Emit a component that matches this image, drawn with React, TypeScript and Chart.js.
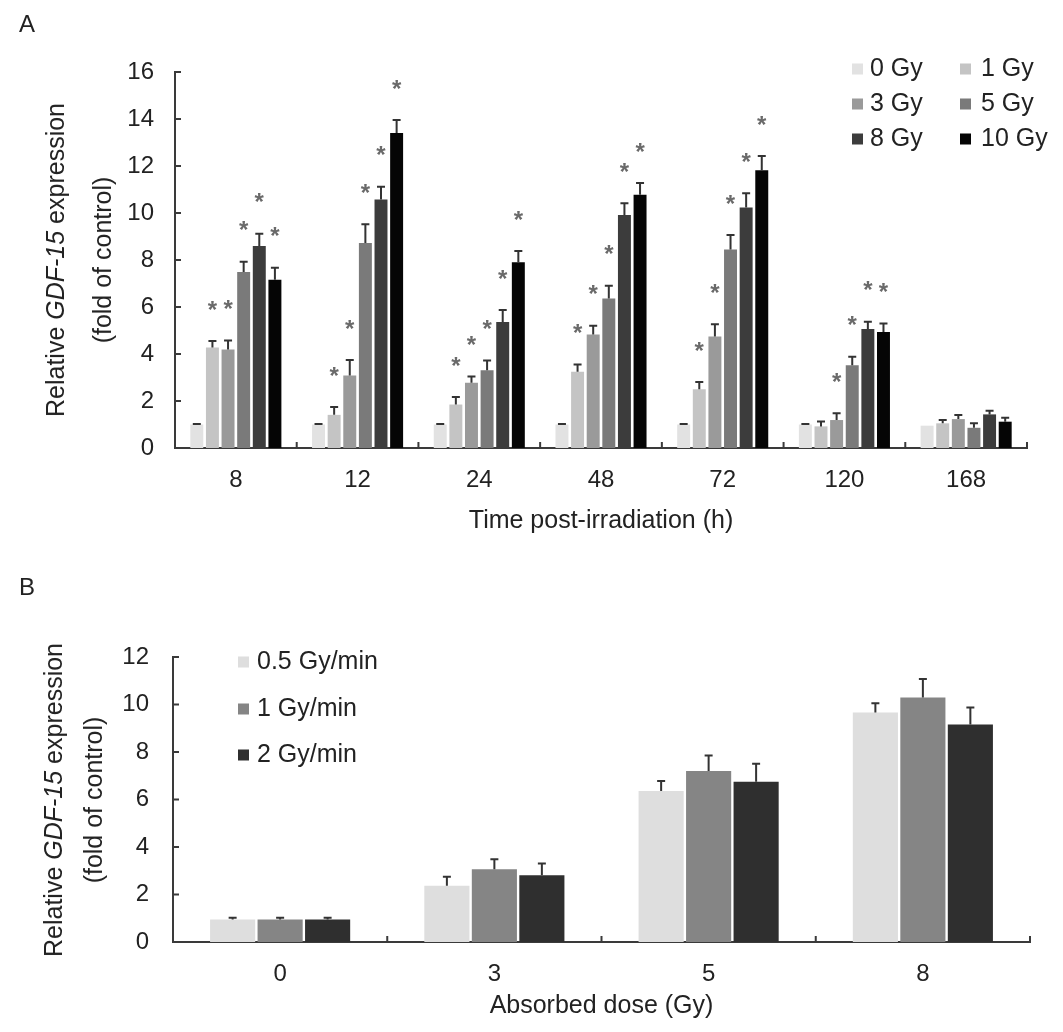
import { useEffect, useRef } from "react";
import { Chart, registerables } from "chart.js";

Chart.register(...registerables);

const FONT = "'Liberation Sans', Arial, Helvetica, sans-serif";
const TEXT = "#222";
const AXIS = "#3a3a3a";

// ---- panel A: time course ----
const timePoints = ["8", "12", "24", "48", "72", "120", "168"];
const doseLabels = ["0 Gy", "1 Gy", "3 Gy", "5 Gy", "8 Gy", "10 Gy"];
const doseColors = ["#e2e2e2", "#c4c4c4", "#9a9a9a", "#7a7a7a", "#3c3c3c", "#050505"];

const gy0 = [1.0, 1.0, 1.0, 1.0, 1.0, 1.0, 0.95];
const gy1 = [4.28, 1.41, 1.85, 3.24, 2.5, 0.92, 1.05];
const gy3 = [4.19, 3.08, 2.78, 4.83, 4.74, 1.19, 1.23];
const gy5 = [7.49, 8.72, 3.31, 6.36, 8.45, 3.52, 0.86];
const gy8 = [8.6, 10.57, 5.36, 9.91, 10.23, 5.06, 1.43];
const gy10 = [7.16, 13.4, 7.9, 10.78, 11.82, 4.94, 1.12];

const gy0Err = [0.02, 0.02, 0.02, 0.02, 0.02, 0.02, 0];
const gy1Err = [0.27, 0.34, 0.32, 0.31, 0.31, 0.21, 0.14];
const gy3Err = [0.38, 0.66, 0.26, 0.37, 0.53, 0.29, 0.17];
const gy5Err = [0.44, 0.8, 0.41, 0.54, 0.61, 0.36, 0.19];
const gy8Err = [0.52, 0.55, 0.51, 0.5, 0.61, 0.31, 0.16];
const gy10Err = [0.51, 0.56, 0.48, 0.5, 0.61, 0.36, 0.17];

const gy0Sig = [0, 0, 0, 0, 0, 0, 0];
const gy1Sig = [1, 1, 1, 1, 1, 0, 0];
const gy3Sig = [1, 1, 1, 1, 1, 1, 0];
const gy5Sig = [1, 1, 1, 1, 1, 1, 0];
const gy8Sig = [1, 1, 1, 1, 1, 1, 0];
const gy10Sig = [1, 1, 1, 1, 1, 1, 0];

const doseMeans = [gy0, gy1, gy3, gy5, gy8, gy10];
const doseErrors = [gy0Err, gy1Err, gy3Err, gy5Err, gy8Err, gy10Err];
const doseSig = [gy0Sig, gy1Sig, gy3Sig, gy5Sig, gy8Sig, gy10Sig];

// ---- panel B: dose rate ----
const doseLevels = ["0", "3", "5", "8"];
const rateLabels = ["0.5 Gy/min", "1 Gy/min", "2 Gy/min"];
const rateColors = ["#dedede", "#858585", "#2f2f2f"];

const rate05 = [0.95, 2.37, 6.36, 9.66];
const rate1 = [0.95, 3.06, 7.2, 10.29];
const rate2 = [0.95, 2.81, 6.75, 9.16];
const rate05Err = [0.07, 0.38, 0.42, 0.39];
const rate1Err = [0.07, 0.42, 0.65, 0.78];
const rate2Err = [0.07, 0.5, 0.76, 0.71];

const rateMeans = [rate05, rate1, rate2];
const rateErrors = [rate05Err, rate1Err, rate2Err];

const errorBars = {
  id: "errorBars",
  afterDatasetsDraw(chart: any) {
    const { ctx } = chart;
    const y = chart.scales.y;
    chart.data.datasets.forEach((ds: any, i: number) => {
      const meta = chart.getDatasetMeta(i);
      meta.data.forEach((bar: any, j: number) => {
        const err = ds.errors[j];
        const top = y.getPixelForValue(ds.data[j] + err);
        ctx.save();
        ctx.strokeStyle = "#333";
        ctx.lineWidth = 2;
        if (err > 0) {
          ctx.beginPath();
          ctx.moveTo(bar.x, bar.y);
          ctx.lineTo(bar.x, top);
          ctx.moveTo(bar.x - 4, top);
          ctx.lineTo(bar.x + 4, top);
          ctx.stroke();
        }
        if (ds.stars && ds.stars[j]) {
          ctx.fillStyle = "#6a6a6a";
          ctx.font = `bold 24px ${FONT}`;
          ctx.textAlign = "center";
          ctx.textBaseline = "middle";
          ctx.fillText("*", bar.x, top - 30);
        }
        ctx.restore();
      });
    });
  },
};

// short tick marks pointing into the plot
const innerTicks = {
  id: "innerTicks",
  afterDraw(chart: any) {
    const { ctx, chartArea } = chart;
    const { left, right, bottom } = chartArea;
    const y = chart.scales.y;
    const n = chart.data.labels.length;
    ctx.save();
    ctx.strokeStyle = AXIS;
    ctx.lineWidth = 2;
    ctx.beginPath();
    y.ticks.forEach((t: any) => {
      const py = y.getPixelForValue(t.value);
      ctx.moveTo(left, py);
      ctx.lineTo(left + 6, py);
    });
    for (let i = 1; i <= n; i++) {
      const px = left + ((right - left) * i) / n;
      ctx.moveTo(px, bottom);
      ctx.lineTo(px, bottom - 6);
    }
    ctx.stroke();
    ctx.restore();
  },
};

function makeConfig(o: any) {
  return {
    type: "bar",
    data: {
      labels: o.labels,
      datasets: o.names.map((label: string, i: number) => ({
        label,
        data: o.means[i],
        errors: o.errors[i],
        stars: o.sig ? o.sig[i] : null,
        backgroundColor: o.colors[i],
        borderWidth: 0,
        barPercentage: o.barPct,
        categoryPercentage: o.catPct,
      })),
    },
    options: {
      responsive: false,
      animation: false,
      layout: { padding: { top: o.top, right: o.right, left: 0, bottom: 0 } },
      plugins: { legend: { display: false }, tooltip: { enabled: false } },
      scales: {
        x: {
          grid: { display: false },
          border: { color: AXIS, width: 2 },
          ticks: { color: TEXT, font: { size: 24, family: FONT }, padding: 10 },
          title: {
            display: true,
            text: o.xTitle,
            color: TEXT,
            font: { size: 25, family: FONT },
            padding: { top: 0, bottom: o.titlePad },
          },
          afterFit: (s: any) => {
            s.height = o.xHeight;
          },
        },
        y: {
          min: 0,
          max: o.yMax,
          grid: { display: false },
          border: { color: AXIS, width: 2 },
          ticks: { stepSize: 2, color: TEXT, font: { size: 24, family: FONT }, padding: o.yPad },
          afterFit: (s: any) => {
            s.width = o.left;
          },
        },
      },
    },
    plugins: [errorBars, innerTicks],
  };
}

function BarPanel({ top, width, height, config }: any) {
  const ref = useRef<HTMLCanvasElement | null>(null);
  useEffect(() => {
    const canvas = ref.current;
    if (!canvas) return;
    const chart = new Chart(canvas, config);
    return () => chart.destroy();
  }, []);
  return (
    <canvas
      ref={ref}
      width={width}
      height={height}
      style={{ position: "absolute", left: 0, top, width, height }}
    />
  );
}

function YTitle({ cx, cy, gap }: any) {
  return (
    <div
      style={{
        position: "absolute",
        left: cx,
        top: cy,
        transform: "translate(-50%, -50%) rotate(-90deg)",
        whiteSpace: "nowrap",
        textAlign: "center",
        font: `25px ${FONT}`,
        lineHeight: `${gap}px`,
        color: TEXT,
      }}
    >
      <div>
        Relative <i>GDF-15</i> expression
      </div>
      <div>(fold of control)</div>
    </div>
  );
}

function LegendItem({ x, y, color, label, gap }: any) {
  return (
    <div
      style={{
        position: "absolute",
        left: x,
        top: y,
        transform: "translateY(-50%)",
        display: "flex",
        alignItems: "center",
        font: `25px ${FONT}`,
        lineHeight: 1,
        color: TEXT,
        whiteSpace: "nowrap",
      }}
    >
      <span style={{ width: 11, height: 11, background: color, marginRight: gap, marginTop: 4 }} />
      {label}
    </div>
  );
}

const configA = makeConfig({
  labels: timePoints,
  names: doseLabels,
  means: doseMeans,
  errors: doseErrors,
  sig: doseSig,
  colors: doseColors,
  barPct: 0.83,
  catPct: 0.77,
  top: 72,
  right: 36,
  left: 175,
  xHeight: 97,
  titlePad: 9,
  yMax: 16,
  yPad: 13,
  xTitle: "Time post-irradiation (h)",
});

const configB = makeConfig({
  labels: doseLevels,
  names: rateLabels,
  means: rateMeans,
  errors: rateErrors,
  sig: null,
  colors: rateColors,
  barPct: 0.95,
  catPct: 0.665,
  top: 97,
  right: 33,
  left: 173,
  xHeight: 90,
  titlePad: 11,
  yMax: 12,
  yPad: 16,
  xTitle: "Absorbed dose (Gy)",
});

const legendACols = [852, 960];
const legendARows = [67, 102, 137];
const legendBRows = [660, 707, 753];

export default function App() {
  return (
    <div
      style={{
        position: "absolute",
        left: 0,
        top: 0,
        width: 1063,
        height: 1032,
        background: "#fff",
        overflow: "hidden",
        fontFamily: FONT,
      }}
    >
      <BarPanel top={0} width={1063} height={545} config={configA} />
      <BarPanel top={560} width={1063} height={472} config={configB} />

      <div style={{ position: "absolute", left: 19, top: 10, font: `24px ${FONT}`, color: TEXT }}>A</div>
      <div style={{ position: "absolute", left: 19, top: 573, font: `24px ${FONT}`, color: TEXT }}>B</div>

      <YTitle cx={79} cy={260} gap={47} />
      <YTitle cx={73} cy={800} gap={40} />

      {doseLabels.map((label, i) => (
        <LegendItem
          key={label}
          x={legendACols[i % 2]}
          y={legendARows[Math.floor(i / 2)]}
          color={doseColors[i]}
          label={label}
          gap={i % 2 ? 10 : 7}
        />
      ))}
      {rateLabels.map((label, i) => (
        <LegendItem key={label} x={238} y={legendBRows[i]} color={rateColors[i]} label={label} gap={8} />
      ))}
    </div>
  );
}
